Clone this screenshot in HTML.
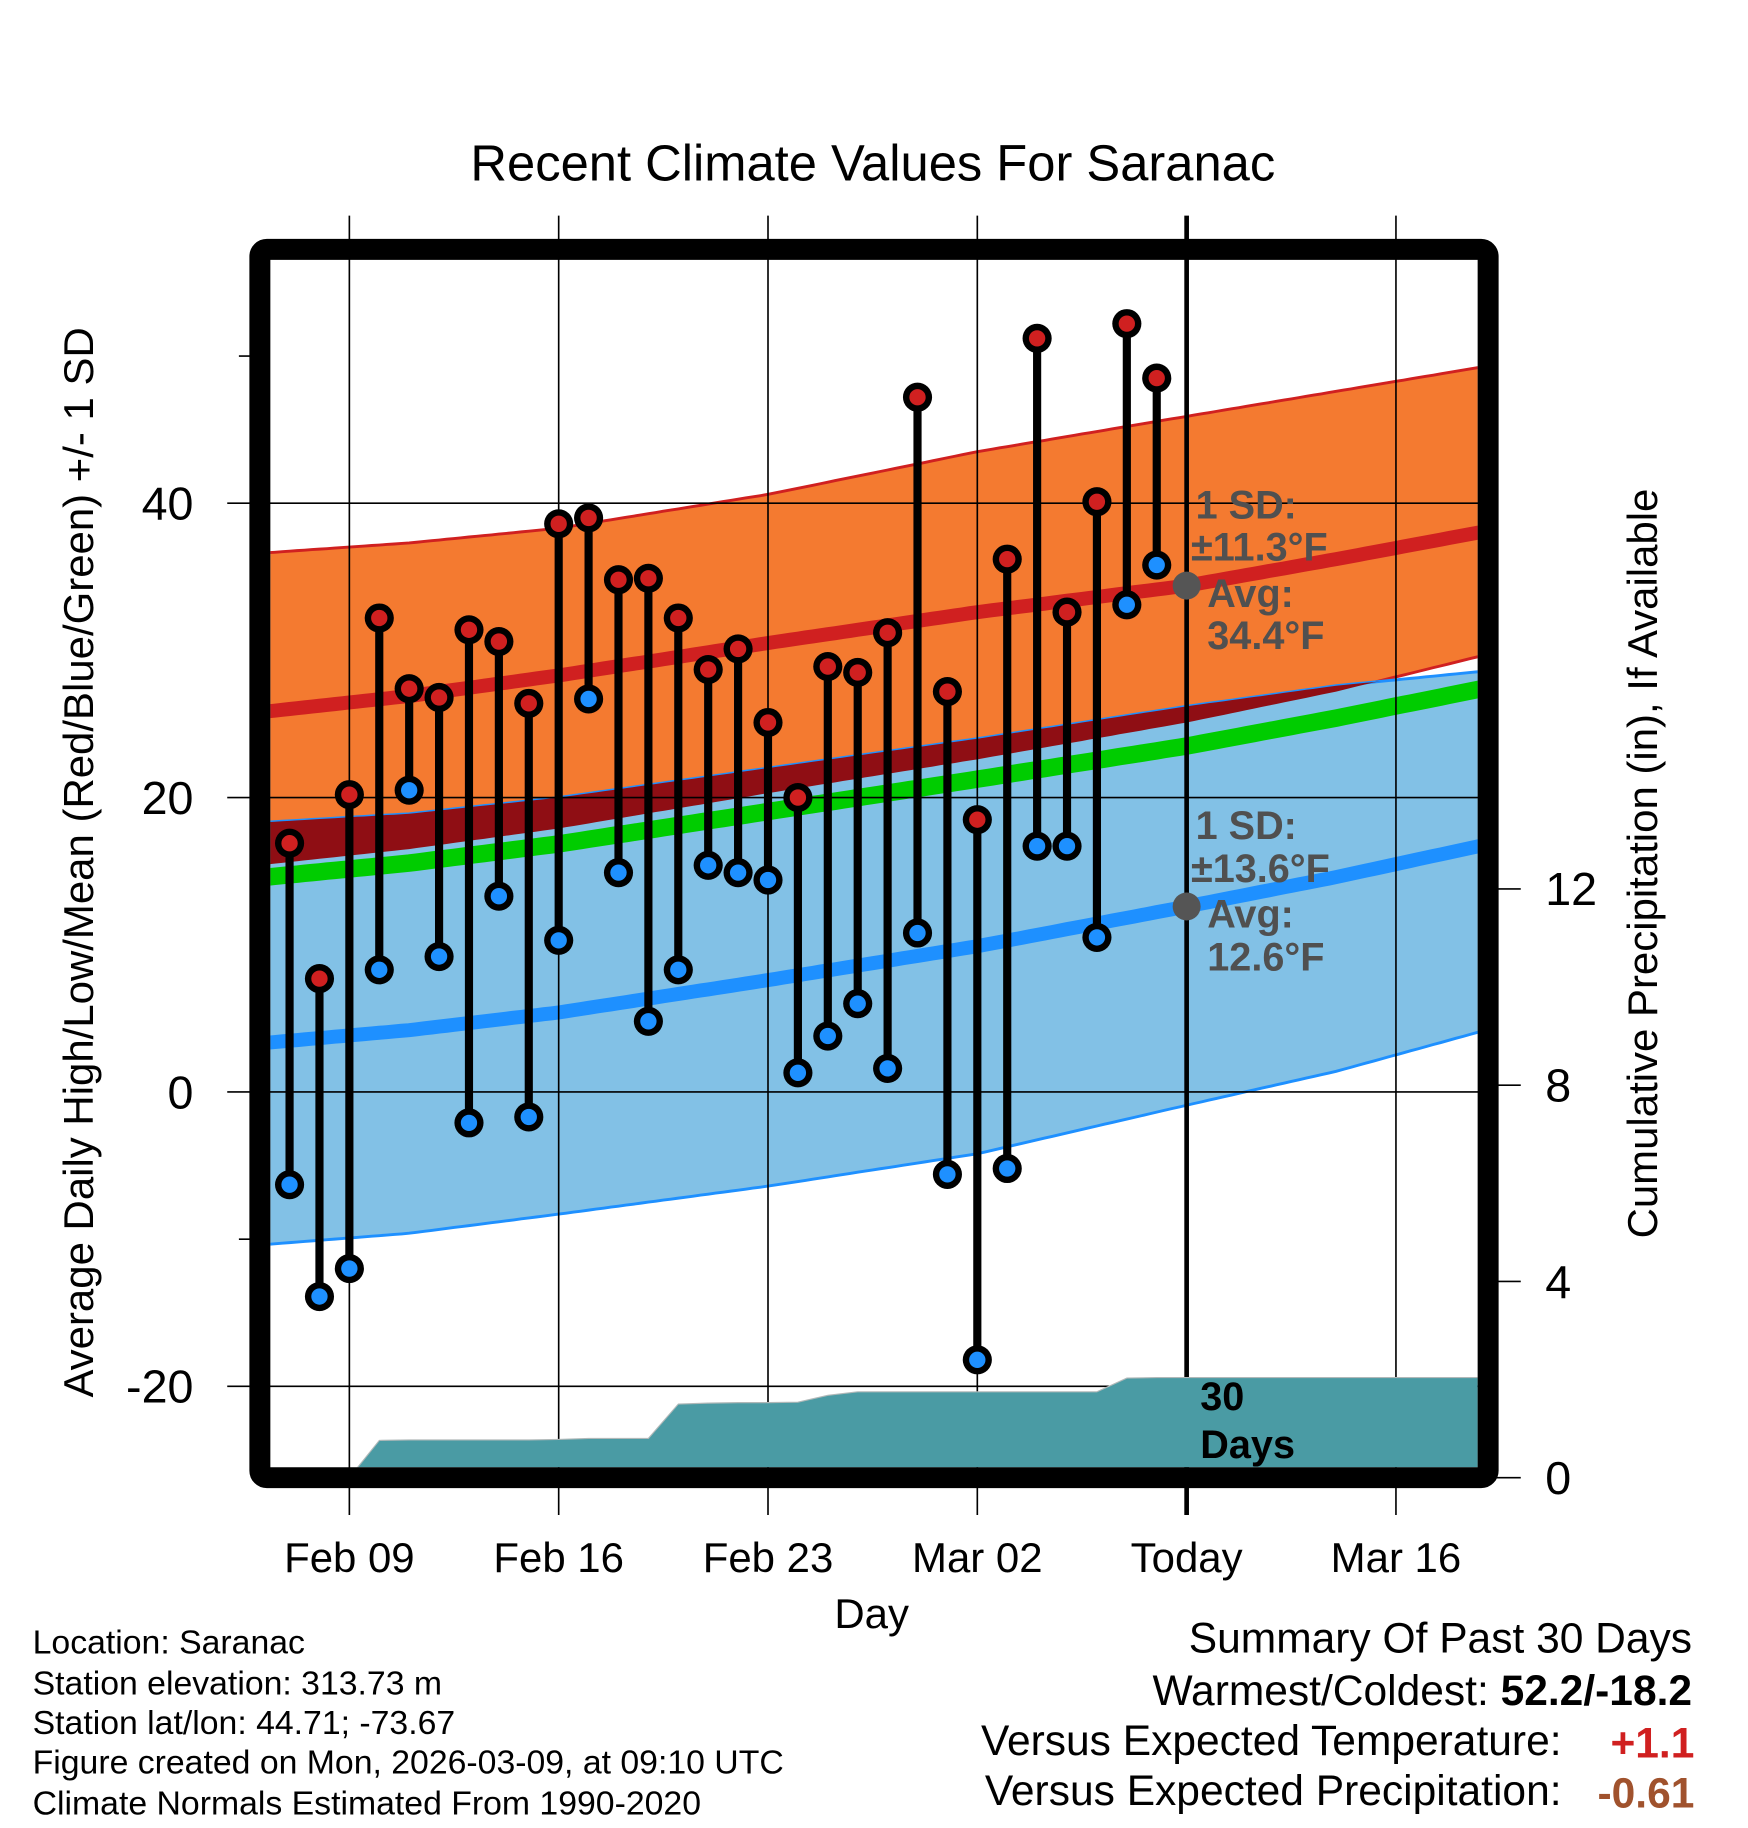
<!DOCTYPE html>
<html><head><meta charset="utf-8"><style>
html,body{margin:0;padding:0;background:#fff;}
svg{display:block;font-family:"Liberation Sans",Arial,sans-serif;}
</style></head><body>
<svg id="chart" width="1748" height="1828" viewBox="0 0 1500 1568.6" preserveAspectRatio="none" xmlns="http://www.w3.org/2000/svg">
<defs><clipPath id="plotclip"><rect x="232" y="223" width="1036" height="1036"/></clipPath></defs>
<text x="749" y="155" font-size="43.5" text-anchor="middle">Recent Climate Values For Saranac</text>
<g id="bands" clip-path="url(#plotclip)"></g>
<g id="grid"></g>
<g id="precip" clip-path="url(#plotclip)"></g>
<g id="obs"></g>
<g id="axes"></g>
<g font-size="34" font-weight="bold" fill="#505050">
<text x="1026" y="445">1 SD:</text><text x="1022" y="481">±11.3°F</text><text x="1036" y="521">Avg:</text><text x="1036" y="557">34.4°F</text></g>
<g font-size="34" font-weight="bold" fill="#505050">
<text x="1026" y="720">1 SD:</text><text x="1022" y="757">±13.6°F</text><text x="1036" y="796">Avg:</text><text x="1036" y="833">12.6°F</text></g>
<g font-size="34" font-weight="bold" fill="#000"><text x="1030" y="1210">30</text><text x="1030" y="1251">Days</text></g>
<text x="748" y="1397" font-size="36" text-anchor="middle">Day</text>
<text transform="translate(80,740) rotate(-90)" font-size="36" text-anchor="middle">Average Daily High/Low/Mean (Red/Blue/Green) +/- 1 SD</text>
<text transform="translate(1422,741) rotate(-90)" font-size="36" text-anchor="middle">Cumulative Precipitation (in), If Available</text>
<g font-size="29">
<text x="28" y="1419">Location: Saranac</text>
<text x="28" y="1454">Station elevation: 313.73 m</text>
<text x="28" y="1488">Station lat/lon: 44.71; -73.67</text>
<text x="28" y="1522">Figure created on Mon, 2026-03-09, at 09:10 UTC</text>
<text x="28" y="1557">Climate Normals Estimated From 1990-2020</text></g>
<g font-size="36.5">
<text x="1452" y="1418" text-anchor="end">Summary Of Past 30 Days</text>
<text x="1452" y="1463" text-anchor="end">Warmest/Coldest: <tspan font-weight="bold">52.2/-18.2</tspan></text>
<text x="1340" y="1506" text-anchor="end">Versus Expected Temperature:</text>
<text x="1454" y="1508" text-anchor="end" font-weight="bold" fill="#d02020">+1.1</text>
<text x="1340" y="1549" text-anchor="end">Versus Expected Precipitation:</text>
<text x="1454" y="1551" text-anchor="end" font-weight="bold" fill="#a0522d">-0.61</text></g>
</svg>
<script>
// Days are offsets relative to Feb 09
const obsDays = [-2,-1,0,1,2,3,4,5,6,7,8,9,10,11,12,13,14,15,16,17,18,19,20,21,22,23,24,25,26,27];
const highs = [16.9,7.7,20.2,32.2,27.4,26.8,31.4,30.6,26.4,38.6,39.0,34.8,34.9,32.2,28.7,30.1,25.1,20.0,28.9,28.5,31.2,47.2,27.2,18.5,36.2,51.2,32.6,40.1,52.2,48.5];
const lows = [-6.3,-13.9,-12.0,8.3,20.5,9.2,-2.1,13.3,-1.7,10.3,26.7,14.9,4.8,8.3,15.4,14.9,14.4,1.3,3.8,6.0,1.6,10.8,-5.6,-18.2,-5.2,16.7,16.7,10.5,33.1,35.8];
const precip = [0,0,0,0.76,0.77,0.77,0.77,0.77,0.77,0.78,0.80,0.80,0.80,1.50,1.52,1.53,1.53,1.54,1.68,1.75,1.75,1.75,1.75,1.75,1.75,1.75,1.75,1.75,2.03,2.04];
const normDays = [-3,2,7,14,21,28,33,38];
const highUpper = [36.6,37.3,38.3,40.6,43.5,45.9,47.6,49.3];
const highMean = [25.8,26.9,28.3,30.5,32.6,34.4,36.2,38.1];
const highLower = [15.4,16.5,17.9,20.3,22.6,25.1,27.2,29.7];
const lowUpper = [18.3,18.9,20.0,22.0,24.0,26.2,27.6,28.6];
const lowMean = [3.3,4.2,5.4,7.6,9.9,12.6,14.6,16.8];
const lowLower = [-10.4,-9.6,-8.3,-6.4,-4.2,-0.9,1.4,4.2];
const xTickDays = [0,7,14,21,28,35];
const xTickLabels = ["Feb 09","Feb 16","Feb 23","Mar 02","Today","Mar 16"];
const yTicks = [-20,0,20,40];
const yMinor = [-10,50];
const y2Ticks = [0,4,8,12];

const NS="http://www.w3.org/2000/svg";
const X=d=>299.8+d*25.66;
const Y=v=>937-v*12.63;
const Y2=p=>1268-p*42.1;
function mk(tag,attrs,parent){const e=document.createElementNS(NS,tag);for(const k in attrs)e.setAttribute(k,attrs[k]);parent.appendChild(e);return e;}
function interp(arr,d){if(d<=normDays[0])return arr[0]+(arr[1]-arr[0])*(d-normDays[0])/(normDays[1]-normDays[0]);
 for(let i=0;i<normDays.length-1;i++){if(d<=normDays[i+1]){const t=(d-normDays[i])/(normDays[i+1]-normDays[i]);return arr[i]+(arr[i+1]-arr[i])*t;}}
 const n=normDays.length;return arr[n-1]+(arr[n-1]-arr[n-2])*(d-normDays[n-1])/(normDays[n-1]-normDays[n-2]);}
const samples=[];for(let d=-3;d<=38.01;d+=0.25)samples.push(d);
function line(arr){return samples.map(d=>X(d).toFixed(1)+","+Y(interp(arr,d)).toFixed(1));}
function band(top,bot){return line(top).concat(line(bot).reverse()).join(" ");}
const bands=document.getElementById('bands');
let e;
e=mk('polygon',{points:band(highUpper,highLower),fill:'#f47a30',stroke:'#d02020','stroke-width':2.5},bands);


e=mk('polygon',{points:band(lowUpper,lowLower),fill:'#82c1e6',stroke:'#1e90ff','stroke-width':2.5},bands);


const ovTop=samples.map(d=>X(d).toFixed(1)+","+Y(interp(lowUpper,d)).toFixed(1));
const ovBot=samples.map(d=>X(d).toFixed(1)+","+Y(Math.min(interp(highLower,d),interp(lowUpper,d))).toFixed(1)).reverse();
e=mk('polygon',{points:ovTop.concat(ovBot).join(" "),fill:'#8f0e14'},bands);


const meanArr=highMean.map((h,i)=>(h+lowMean[i])/2);
e=mk('polyline',{points:line(meanArr).join(" "),fill:'none',stroke:'#00cc00','stroke-width':15},bands);


e=mk('polyline',{points:line(lowMean).join(" "),fill:'none',stroke:'#1e90ff','stroke-width':12},bands);


e=mk('polyline',{points:line(highMean).join(" "),fill:'none',stroke:'#d02020','stroke-width':12},bands);



const grid=document.getElementById('grid');
xTickDays.forEach((d,i)=>{
 e=mk('line',{x1:X(d),x2:X(d),y1:185,y2:1300,stroke:'#000','stroke-width':d===28?4:1.4},grid);
 
 
 e=mk('text',{x:X(d),y:1349,'font-size':36,'text-anchor':'middle'},grid);e.textContent=xTickLabels[i];
 
 
});
yTicks.forEach(v=>{
 e=mk('line',{x1:195,x2:1277,y1:Y(v),y2:Y(v),stroke:'#000','stroke-width':1.4},grid);
 
 
 e=mk('text',{x:166,y:Y(v)+14,'font-size':40,'text-anchor':'end'},grid);e.textContent=v;
 
 
});
yMinor.forEach(v=>{
 e=mk('line',{x1:205,x2:225,y1:Y(v),y2:Y(v),stroke:'#000','stroke-width':1.4},grid);
 
 
});
y2Ticks.forEach(p=>{
 e=mk('line',{x1:1277,x2:1305,y1:Y2(p),y2:Y2(p),stroke:'#000','stroke-width':1.4},grid);
 
 
 e=mk('text',{x:1326,y:Y2(p)+14,'font-size':40},grid);e.textContent=p;
 
 
});

const pg=document.getElementById('precip');
const pts=obsDays.map((d,i)=>X(d).toFixed(1)+","+Y2(precip[i]).toFixed(1));
pts.push("1270,"+Y2(precip[precip.length-1]).toFixed(1));
pts.push("1270,1270");pts.push(X(obsDays[0])+",1270");
e=mk('polygon',{points:pts.join(" "),fill:'#4a9ba4',stroke:'#b0b8b8','stroke-width':1},pg);



const og=document.getElementById('obs');
obsDays.forEach((d,i)=>{
 e=mk('line',{x1:X(d),x2:X(d),y1:Y(highs[i]),y2:Y(lows[i]),stroke:'#000','stroke-width':7},og);
 
 
});
obsDays.forEach((d,i)=>{
 [[highs[i],'#d02020','high-point'],[lows[i],'#1e90ff','low-point']].forEach(([v,c,n])=>{
  const g=mk('g',{},og);
  
  
  mk('circle',{cx:X(d),cy:Y(v),r:12.5,fill:'#000'},g);
  mk('circle',{cx:X(d),cy:Y(v),r:7,fill:c},g);
 });
});
e=mk('circle',{cx:X(28),cy:Y(34.4),r:12,fill:'#555'},og);


e=mk('circle',{cx:X(28),cy:Y(12.6),r:12,fill:'#555'},og);



const ax=document.getElementById('axes');
e=mk('rect',{x:223,y:214,width:1054,height:1054,rx:6,fill:'none',stroke:'#000','stroke-width':18},ax);


</script>
</body></html>
